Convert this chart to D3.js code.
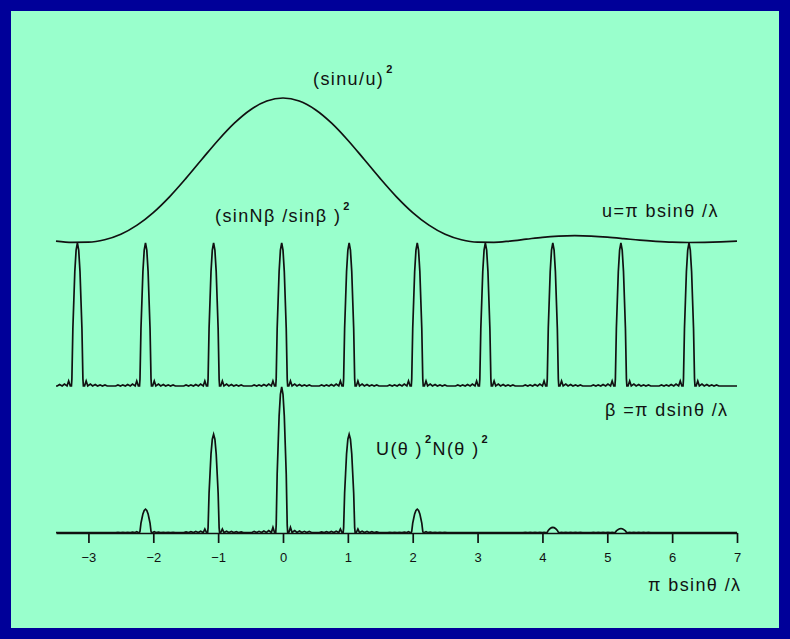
<!DOCTYPE html>
<html>
<head>
<meta charset="utf-8">
<script src="https://cdn.jsdelivr.net/npm/d3@7"></script>
<style>
  body { margin: 0; background: #000099; }
  text { font-family: "Liberation Sans", Arial, sans-serif; fill: #111; }
</style>
</head>
<body>
<div id="canvas"></div>
<script>
// x axis ticks
var majorTicks = [-3, -2, -1, 0, 1, 2, 3, 4, 5, 6, 7];
var minorTicks = [-3.5, -2.5, -1.5, -0.5, 0.5, 1.5, 2.5, 3.5, 4.5, 5.5, 6.5];

// single slit envelope (sinu/u)^2
var envX = [-3.5, -3.25, -3, -2.75, -2.5, -2.25, -2, -1.75, -1.5, -1.25, -1, -0.75, -0.5, -0.25, 0,
            0.25, 0.5, 0.75, 1, 1.25, 1.5, 1.75, 2, 2.25, 2.5, 2.75, 3, 3.25, 3.5, 3.75, 4,
            4.25, 4.5, 4.75, 5, 5.25, 5.5, 5.75, 6, 6.25, 6.5, 6.75, 7];
var envY = [0.01, 0.001, 0.002, 0.019, 0.057, 0.12, 0.207, 0.316, 0.442, 0.576, 0.708, 0.826, 0.919, 0.979, 1,
            0.979, 0.919, 0.826, 0.708, 0.576, 0.442, 0.316, 0.207, 0.12, 0.057, 0.019, 0.002, 0.001, 0.01, 0.023, 0.036,
            0.044, 0.047, 0.044, 0.037, 0.027, 0.016, 0.008, 0.002, 0, 0.001, 0.004, 0.009];

// principal maxima of the grating
var peakPos = [-3.17, -2.12, -1.07, -0.02, 1.02, 2.07, 3.12, 4.16, 5.21, 6.26];
var gratingH = [1, 1, 1, 1, 1, 1, 1, 1, 1, 1];
var productH = [0, 0.16, 0.675, 1, 0.675, 0.16, 0, 0.035, 0.027, 0];

// shape of one principal peak (offset, relative height)
var mainLobe = [[-0.092, 0], [-0.085, 0.05], [-0.07, 0.4], [-0.055, 0.6], [-0.04, 0.8], [-0.02, 0.95], [0, 1],
                [0.02, 0.95], [0.04, 0.8], [0.055, 0.6], [0.07, 0.4], [0.085, 0.05], [0.092, 0]];
// secondary ripples on one side of a peak
var sideLobes = [[0.11, 0], [0.135, 0.035], [0.16, 0], [0.2, 0.013], [0.235, 0], [0.275, 0.01],
                 [0.31, 0], [0.35, 0.008], [0.385, 0], [0.425, 0.007], [0.46, 0]];

draw();

function buildCurve(heights) {
	var pts = [[-3.5, 0], [7, 0]];
	peakPos.forEach(function(c, i) {
		var h = heights[i];
		sideLobes.forEach(function(p) { pts.push([c - p[0], p[1] * h]); });
		mainLobe.forEach(function(p) { pts.push([c + p[0], p[1] * h]); });
		sideLobes.forEach(function(p) { pts.push([c + p[0], p[1] * h]); });
	});
	pts = pts.filter(function(p) { return p[0] >= -3.5 && p[0] <= 7; });
	pts.sort(function(a, b) { return a[0] - b[0]; });
	return pts;
}

function draw() {
	var w = 790, h = 639;
	var svg = d3.select("#canvas").append("svg")
		.attr("width", w)
		.attr("height", h);

	svg.append("rect").attr("width", w).attr("height", h).attr("fill", "#000099");
	svg.append("rect").attr("x", 11).attr("y", 11)
		.attr("width", w - 22).attr("height", h - 22)
		.attr("fill", "#99ffcc");

	var x = d3.scaleLinear().domain([-3.5, 7]).range([56, 737]);
	var yTop = d3.scaleLinear().domain([0, 1]).range([242.5, 98]);
	var yMid = d3.scaleLinear().domain([0, 1]).range([386, 243]);
	var yBot = d3.scaleLinear().domain([0, 1]).range([532.5, 387]);

	// axis
	var axisG = svg.append("g").attr("transform", "translate(0,533)");
	axisG.call(d3.axisBottom(x).tickValues(minorTicks).tickSizeInner(5).tickSizeOuter(0).tickFormat(""));
	axisG.call(d3.axisBottom(x).tickValues(majorTicks).tickSizeInner(10).tickSizeOuter(0)
		.tickFormat(d3.format("d")).tickPadding(10));
	axisG.selectAll("path, line").attr("stroke", "#111").attr("stroke-width", 1.7);
	axisG.selectAll("text").attr("font-size", 13).attr("fill", "#111")
		.attr("font-family", "'Liberation Sans', Arial, sans-serif");

	var envData = envX.map(function(v, i) { return [v, envY[i]]; });

	var lineTop = d3.line().x(function(d) { return x(d[0]); }).y(function(d) { return yTop(d[1]); })
		.curve(d3.curveMonotoneX);
	var lineMid = d3.line().x(function(d) { return x(d[0]); }).y(function(d) { return yMid(d[1]); });
	var lineBot = d3.line().x(function(d) { return x(d[0]); }).y(function(d) { return yBot(d[1]); });

	svg.append("path").attr("d", lineTop(envData))
		.attr("fill", "none").attr("stroke", "#111").attr("stroke-width", 1.7);
	svg.append("path").attr("d", lineMid(buildCurve(gratingH)))
		.attr("fill", "none").attr("stroke", "#111").attr("stroke-width", 1.7);
	svg.append("path").attr("d", lineBot(buildCurve(productH)))
		.attr("fill", "none").attr("stroke", "#111").attr("stroke-width", 1.7);

	// labels
	function label(tx, ty, parts) {
		var t = svg.append("text").attr("x", tx).attr("y", ty)
			.attr("font-size", 18).attr("letter-spacing", 1.4);
		parts.forEach(function(p) {
			var s = t.append("tspan").text(p[0]);
			if (p[1]) s.attr("font-size", 11).attr("font-weight", "bold").attr("dy", -12).attr("dx", 2);
			if (p[2]) s.attr("dy", 12);
		});
	}
	label(313, 85, [["(sinu/u)"], ["2", true]]);
	label(215, 222, [["(sinNβ /sinβ )"], ["2", true]]);
	label(602, 217, [["u=π bsinθ /λ"]]);
	label(605, 416, [["β =π dsinθ /λ"]]);
	label(376, 455, [["U(θ )"], ["2", true], ["N(θ )", false, true], ["2", true]]);
	label(648, 591, [["π bsinθ /λ"]]);
}
</script>
</body>
</html>
